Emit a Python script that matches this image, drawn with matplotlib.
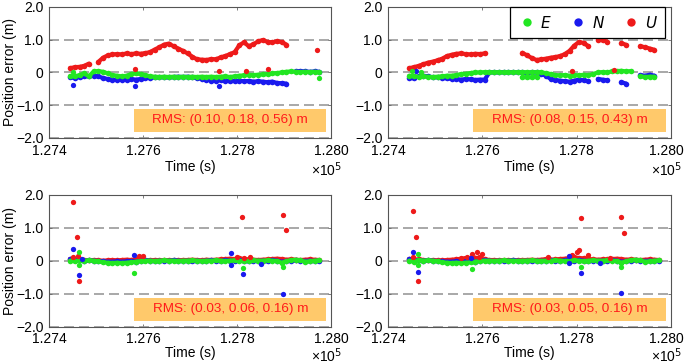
import numpy as np
import matplotlib
matplotlib.use("Agg")
import matplotlib.pyplot as plt
from matplotlib.lines import Line2D
from matplotlib.patches import Rectangle
from matplotlib.transforms import ScaledTranslation

plt.rcParams['font.family'] = ['Liberation Sans', 'DejaVu Sans']
plt.rcParams['font.size'] = 10

nan = np.nan
# sample epochs (s), one every 10 s
t = np.arange(127445, 127976, 10)

# ---- top left ----
tl_u = [0.13, 0.16, 0.17, 0.20, 0.27, nan, 0.32, 0.45, 0.52, 0.55, 0.56, 0.55, 0.58, 0.56,
        0.58, 0.57, 0.59, 0.62, 0.70, 0.77, 0.85, 0.88, 0.80, 0.73, 0.66, 0.58, 0.48, 0.40,
        0.39, 0.38, 0.41, 0.40, 0.46, 0.50, 0.56, 0.62, 0.83, 0.92, 0.80, 0.86, 0.95, 0.99,
        0.93, 0.92, 0.95, 0.93, 0.85, nan, nan, nan, nan, nan, nan, nan]
tl_n = [-0.15, -0.17, -0.14, -0.12, -0.12, -0.10, -0.12, -0.17, -0.20, -0.22, -0.23, -0.22,
        -0.22, -0.20, -0.22, -0.20, -0.18, -0.16, -0.15, -0.14, -0.15, -0.15, -0.14, -0.13,
        -0.14, -0.13, -0.15, -0.17, -0.20, -0.22, -0.25, -0.26, -0.24, -0.25, -0.27, -0.26,
        -0.25, -0.27, -0.26, -0.28, -0.27, -0.28, -0.30, -0.28, -0.32, -0.33, -0.34, nan,
        0.03, 0.04, 0.03, 0.02, 0.03, 0.02]
tl_e = [-0.12, -0.12, -0.08, -0.03, -0.12, 0.03, 0.04, 0.02, -0.03, -0.08, -0.10, -0.12,
        -0.10, -0.05, -0.03, -0.05, -0.08, -0.12, -0.13, -0.14, -0.13, -0.14, -0.13, -0.14,
        -0.13, -0.14, -0.13, -0.14, -0.13, -0.14, -0.13, -0.14, -0.13, -0.12, -0.14, -0.12,
        -0.10, -0.09, -0.07, -0.08, -0.07, -0.06, -0.05, -0.03, -0.02, 0.00, 0.02, 0.03,
        0.02, 0.01, 0.02, 0.01, 0.02, 0.01]
tl_out_u = ([127583, 127762, 127820, 127866, 127970], [0.12, 0.05, 0.05, 0.09, 0.70])
tl_out_n = ([127452, 127583, 127762], [-0.38, -0.42, -0.42])
tl_out_e = ([127452, 127975], [0.00, -0.18])

# ---- top right ----
tr_u = [0.13, 0.16, 0.20, 0.25, 0.30, 0.33, 0.37, 0.42, 0.50, 0.54, 0.57, 0.58, 0.56, 0.55,
        0.57, 0.56, 0.58, nan, nan, nan, nan, nan, nan, nan, 0.60, 0.52, 0.44, 0.38, 0.40,
        0.42, 0.45, 0.47, 0.50, 0.56, 0.66, 0.82, 0.93, 0.90, 0.80, nan, 1.00, 0.98, 0.94,
        nan, nan, 0.90, 0.84, nan, nan, 0.80, 0.77, 0.73, 0.69, nan]
tr_n = [-0.17, -0.18, -0.12, -0.10, -0.12, -0.15, -0.14, -0.17, -0.18, -0.20, -0.20, -0.22,
        -0.20, -0.21, -0.23, -0.22, -0.22, 0.00, 0.01, 0.00, 0.01, 0.00, 0.01, 0.00, 0.00,
        -0.02, 0.00, 0.00, -0.05, -0.10, -0.20, -0.23, -0.25, -0.27, -0.28, -0.25, -0.22,
        -0.24, -0.27, nan, -0.20, -0.22, -0.24, nan, nan, -0.30, -0.34, nan, nan, -0.08,
        -0.10, -0.07, -0.10, nan]
tr_e = [-0.10, -0.12, -0.13, -0.12, -0.13, -0.14, -0.13, -0.12, -0.10, -0.10, -0.08, -0.05,
        -0.04, -0.02, 0.00, 0.00, 0.01, 0.01, 0.00, 0.01, 0.00, 0.01, 0.00, 0.01, 0.00, 0.01,
        0.00, 0.01, 0.00, -0.02, -0.05, -0.08, -0.09, -0.08, -0.10, -0.08, -0.09, -0.07,
        -0.08, -0.05, 0.00, 0.01, 0.00, 0.03, 0.04, 0.05, 0.03, 0.04, nan, -0.12, -0.14,
        -0.13, -0.13, nan]
tr_e2 = ([127685, 127695, 127705, 127715], [-0.15, -0.14, -0.15, -0.13])
tr_out_u = ([127790, 127880], [0.05, 0.07])
tr_out_n = ([127460], [0.03])
tr_out_e = ([127450, 127470], [0.03, 0.02])

# ---- bottom left ----
bl_u = [0.05, 0.03, 0.04, 0.02, 0.01, 0.02, 0.01, 0.00, 0.01, 0.02, 0.01, 0.02, 0.03, 0.02,
        0.04, 0.03, 0.02, 0.01, 0.02, 0.01, 0.02, 0.01, 0.02, 0.01, 0.02, 0.02, 0.03, 0.02,
        0.01, 0.03, 0.02, 0.03, 0.04, 0.05, 0.06, 0.05, 0.07, 0.05, 0.04, 0.03, 0.02, 0.03,
        0.04, 0.05, 0.06, 0.05, 0.03, 0.04, 0.03, 0.02, 0.03, 0.04, 0.03, 0.02]
bl_n = [0.05, 0.02, 0.01, 0.00, 0.01, 0.00, -0.01, -0.02, -0.03, -0.03, -0.02, -0.03, -0.02,
        -0.01, -0.03, 0.00, 0.01, 0.00, -0.01, 0.00, -0.01, 0.00, 0.01, 0.00, -0.01, 0.00,
        -0.02, 0.00, -0.01, 0.00, 0.01, 0.00, -0.02, 0.02, 0.00, -0.01, 0.01, 0.00, -0.02,
        0.00, -0.01, 0.00, -0.02, 0.01, 0.00, -0.03, -0.02, 0.00, 0.01, 0.00, -0.01, 0.00,
        -0.01, 0.00]
bl_e = [0.00, -0.02, 0.02, 0.00, 0.01, 0.00, -0.02, -0.05, -0.06, -0.07, -0.06, -0.07, -0.06,
        -0.05, -0.03, -0.01, 0.00, 0.00, -0.01, 0.00, 0.01, 0.00, 0.00, -0.01, 0.00, 0.00,
        0.01, 0.00, -0.01, 0.00, 0.00, 0.01, 0.00, -0.01, 0.00, 0.01, 0.00, -0.02, 0.00,
        0.01, 0.00, 0.00, 0.01, 0.00, -0.01, -0.06, -0.02, 0.02, 0.03, 0.01, -0.03, -0.02,
        0.00, 0.01]
bl_out_u = ([127452, 127460, 127462, 127452, 127463, 127591, 127600, 127811, 127897, 127904,
             127828, 127800, 127815],
            [1.77, 0.71, 0.14, 0.10, -0.62, 0.15, 0.15, 1.32, 1.40, 0.94, 0.12, 0.10, 0.08])
bl_out_n = ([127452, 127463, 127581, 127788, 127788, 127812, 127898, 127852, 127470],
            [0.35, -0.42, 0.16, 0.24, -0.12, -0.40, -1.00, -0.10, 0.05])
bl_out_e = ([127463, 127463, 127581, 127812, 127898],
            [0.27, -0.13, -0.38, -0.21, -0.18])

# ---- bottom right ----
br_u = [0.04, 0.03, 0.04, 0.02, 0.01, 0.02, 0.01, 0.01, 0.02, 0.03, 0.04, 0.06, 0.08, 0.07,
        0.09, 0.06, 0.04, 0.02, 0.02, 0.01, 0.02, 0.01, 0.02, 0.01, 0.02, 0.02, 0.03, 0.02,
        0.03, 0.05, 0.03, 0.04, 0.05, 0.06, 0.08, 0.10, 0.08, 0.07, 0.05, 0.04, 0.03, 0.04,
        0.04, 0.05, 0.06, 0.05, 0.03, 0.04, 0.03, 0.02, 0.03, 0.04, 0.03, 0.02]
br_n = [0.05, 0.02, 0.01, 0.00, 0.01, 0.00, -0.01, -0.02, -0.03, -0.03, -0.02, -0.03, -0.02,
        -0.01, -0.03, 0.00, 0.01, 0.00, -0.01, 0.00, -0.01, 0.00, 0.01, 0.00, -0.01, 0.00,
        -0.02, 0.00, -0.01, 0.00, 0.01, 0.00, -0.02, 0.02, 0.00, -0.01, 0.01, 0.00, -0.02,
        0.00, -0.01, 0.00, -0.02, 0.01, 0.00, -0.03, -0.02, 0.00, 0.01, 0.00, -0.01, 0.00,
        -0.01, 0.00]
br_e = [0.00, -0.03, 0.02, 0.00, 0.01, 0.00, -0.02, -0.05, -0.06, -0.07, -0.06, -0.07, -0.06,
        -0.05, -0.03, -0.01, 0.00, 0.00, -0.01, 0.00, 0.01, 0.00, 0.00, -0.01, 0.00, 0.00,
        0.01, 0.00, -0.01, 0.00, 0.00, 0.01, 0.00, -0.01, 0.00, 0.01, 0.00, -0.02, 0.00,
        0.01, 0.00, 0.00, 0.01, 0.00, -0.01, -0.06, -0.02, 0.02, 0.03, 0.01, -0.03, -0.02,
        0.00, 0.01]
br_out_u = ([127452, 127459, 127463, 127452, 127554, 127567, 127579, 127589, 127599, 127594,
             127809, 127895, 127901, 127805, 127800, 127790, 127825, 127740, 127870],
            [1.52, 0.71, -0.62, 0.12, 0.07, 0.12, 0.21, 0.26, 0.20, 0.12, 1.28, 1.33, 0.83,
             0.32, 0.25, 0.17, 0.17, 0.10, 0.08])
br_out_n = ([127452, 127463, 127577, 127784, 127784, 127809, 127895, 127850],
            [0.25, -0.35, 0.09, 0.15, -0.08, -0.36, -0.97, -0.08])
br_out_e = ([127463, 127463, 127579, 127809, 127895],
            [0.20, -0.14, -0.26, -0.20, -0.20])

rms_labels = ['RMS: (0.10, 0.18, 0.56) m', 'RMS: (0.08, 0.15, 0.43) m',
              'RMS: (0.03, 0.06, 0.16) m', 'RMS: (0.03, 0.05, 0.16) m']
x_ticks = [127400, 127600, 127800, 128000]
x_ticklabels = ['1.274', '1.276', '1.278', '1.280']
y_ticks = [-2, -1, 0, 1, 2]
y_ticklabels = ['\u22122.0', '\u22121.0', '0', '1.0', '2.0']

C_E = '#22e622'
C_N = '#1a1aee'
C_U = '#ee1a1a'
BOX = '#ffc96b'

fig = plt.figure(figsize=(6.85, 3.64), dpi=100)
positions = [[0.0715, 0.621, 0.4117, 0.360], [0.5664, 0.621, 0.4131, 0.360],
             [0.0715, 0.1025, 0.4117, 0.3626], [0.5664, 0.1025, 0.4131, 0.3626]]
panels = [
    (tl_u, tl_n, tl_e, tl_out_u, tl_out_n, tl_out_e),
    (tr_u, tr_n, tr_e, tr_out_u, tr_out_n, tr_out_e),
    (bl_u, bl_n, bl_e, bl_out_u, bl_out_n, bl_out_e),
    (br_u, br_n, br_e, br_out_u, br_out_n, br_out_e),
]


def track(ax, x, vals, color):
    ax.plot(x, vals, color=color, lw=3.0, marker='o', ms=4.0, mec='none',
            solid_capstyle='round', zorder=3)


def dots(ax, pts, color):
    ax.plot(pts[0], pts[1], ls='none', marker='o', ms=3.8, mec='none', color=color, zorder=4)


for i, (pos, (u, n, e, ou, on, oe)) in enumerate(zip(positions, panels)):
    ax = fig.add_axes(pos)
    track(ax, t, u, C_U)
    dots(ax, ou, C_U)
    track(ax, t, n, C_N)
    dots(ax, on, C_N)
    track(ax, t, e, C_E)
    dots(ax, oe, C_E)
    if i == 1:
        track(ax, tr_e2[0], tr_e2[1], C_E)

    ax.set_xlim(127400, 128000)
    ax.set_ylim(-2, 2)
    ax.set_xticks(x_ticks)
    ax.set_xticklabels(x_ticklabels)
    ax.set_yticks(y_ticks)
    ax.set_yticklabels(y_ticklabels)
    ax.tick_params(direction='in', length=2.5, width=0.6, color='#666666',
                   top=True, right=True, labelsize=10, pad=4)
    ax.yaxis.grid(True, color='#999999', lw=1.2, dashes=(6, 3))
    ax.set_axisbelow(True)
    for s in ax.spines.values():
        s.set_color('#555555')
        s.set_linewidth(0.8)
    if i % 2 == 1:
        # keep the last tick label inside the figure
        last = ax.get_xticklabels()[-1]
        last.set_transform(last.get_transform() + ScaledTranslation(-3 / 72, 0, fig.dpi_scale_trans))

    lower = i >= 2
    ax.set_xlabel('Time (s)', fontsize=10)
    ax.xaxis.set_label_coords(0.5, -0.145 if lower else -0.17)
    ax.text(1.04, -0.222 if lower else -0.245, '\u00d710$^5$', transform=ax.transAxes,
            ha='right', va='center', fontsize=10)
    if i % 2 == 0:
        ax.set_ylabel('Position error (m)', fontsize=10)
        ax.yaxis.set_label_coords(-0.115, 0.5)

    ax.add_patch(Rectangle((0.30, 0.046), 0.681, 0.175, transform=ax.transAxes,
                           facecolor=BOX, edgecolor='none', zorder=5))
    ax.text(0.643, 0.134, rms_labels[i], transform=ax.transAxes, ha='center', va='center',
            color='#ff1a1a', fontsize=9.7, zorder=6)

    if i == 1:
        handles = [Line2D([], [], ls='none', marker='o', ms=6, mec='none', color=c)
                   for c in (C_E, C_N, C_U)]
        leg = ax.legend(handles, ['$E$', '$N$', '$U$'], ncol=3, loc='upper right',
                        bbox_to_anchor=(0.979, 1.0), borderaxespad=0, fancybox=False,
                        edgecolor='black', framealpha=1, fontsize=11, handlelength=1.2,
                        handletextpad=0.3, columnspacing=1.1, borderpad=0.5)
        leg.get_frame().set_linewidth(0.9)
        leg.set_zorder(7)

fig.savefig('out.png', dpi=100)
